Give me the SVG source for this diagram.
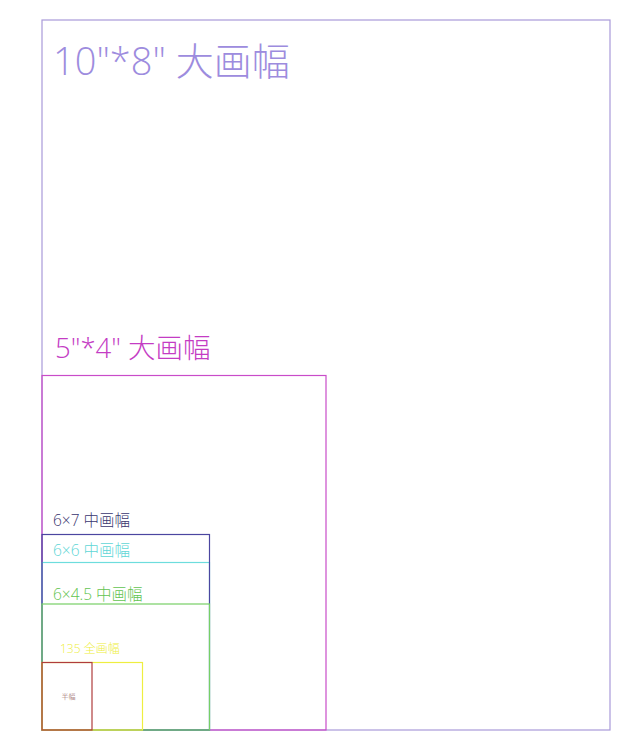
<svg xmlns="http://www.w3.org/2000/svg" width="640" height="753" viewBox="0 0 640 753">
<style>
text{font-family:"Open Sans","Noto Sans CJK SC",sans-serif;font-weight:300}
rect{fill:none;stroke-width:1.2}
</style>
<rect width="640" height="753" fill="#fff" style="stroke:none"/>
<g id="f10x8"><rect x="42" y="20" width="568" height="710" stroke="#a99ad9"/><text x="53" y="75" font-size="38" fill="#9d8cde">10"*8" 大画幅</text></g>
<g id="f5x4"><rect x="42" y="375.5" width="284" height="354.5" stroke="#c94cc9"/><text x="55" y="358" font-size="27.5" fill="#c43cc4">5"*4" 大画幅</text></g>
<g id="f6x6"><rect x="42" y="562.5" width="167.5" height="167.5" stroke="#6ddddd"/><text x="53" y="556" font-size="15.5" fill="#5fd6d6">6×6 中画幅</text></g>
<g id="f6x7"><rect x="42" y="534.5" width="167.5" height="195.5" stroke="#4b46a0"/><text x="53" y="526" font-size="15.5" fill="#3a3670">6×7 中画幅</text></g>
<g id="f6x45"><rect x="42" y="604" width="167.5" height="126" stroke="#77cf66"/><text x="53" y="599.5" font-size="15.5" fill="#62c451">6×4.5 中画幅</text></g>
<g id="f135"><rect x="42" y="662.5" width="100.5" height="67.5" stroke="#eeee40"/><text x="60" y="653" font-size="12" fill="#eeee3c">135 全画幅</text></g>
<g id="fhalf"><rect x="42" y="662.5" width="50" height="67.5" stroke="#b03c3c"/><text x="61.5" y="699" font-size="7" fill="#8a4a4a">半幅</text></g>
<g id="connectors"></g>
</svg>
